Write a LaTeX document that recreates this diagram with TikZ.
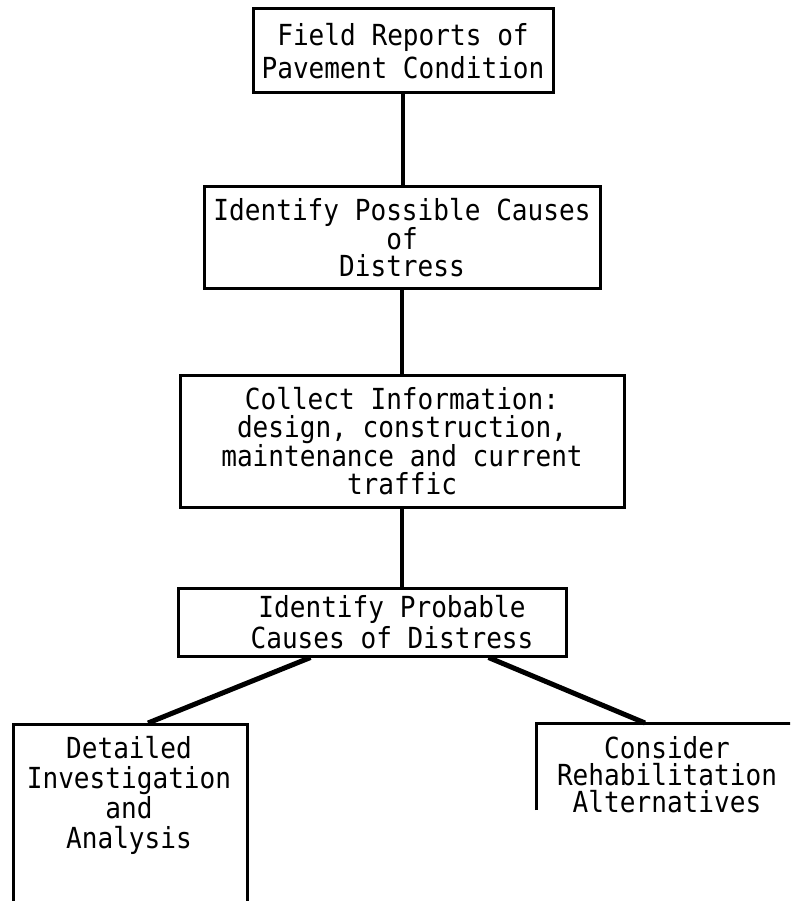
\documentclass[tikz,border=0pt]{standalone}
\usepackage{fontspec}
\usetikzlibrary{calc}
\newfontfamily\typer[FakeStretch=0.9]{DejaVu Sans Mono}
\begin{document}
\begin{tikzpicture}[x=1pt,y=-1pt,
  txt/.style={inner sep=0pt, align=center,
    font=\typer\fontsize{29}{#1}\selectfont},
  txt/.default=29,
  frame/.style={draw, rectangle, line width=3pt, inner sep=0pt},
  link/.style={line width=4pt},
  branch/.style={line width=5pt}]
  \useasboundingbox (0,0) rectangle (790,901);
  \clip (0,0) rectangle (790,901);

  % main chain of boxes
  \node[frame, txt=33, minimum width=300pt, minimum height=84pt] (field) at (403,51)
    {Field Reports of\\Pavement Condition};
  \node[frame, txt=27.5, minimum width=396pt, minimum height=101pt] (possible) at (402,237.5)
    {Identify Possible Causes\\of\\Distress};
  \node[frame, txt=28.5, minimum width=444pt, minimum height=132pt] (collect) at (402,441)
    {Collect Information:\\design, construction,\\maintenance and current\\traffic};
  \node[frame, minimum width=388pt, minimum height=68pt] (probable) at (372,622) {};
  \node[txt=31] (probabletext) at (392,622)
    {Identify Probable\\Causes of Distress};

  % lower-left box runs past the bottom edge
  \node[frame, anchor=north west, minimum width=234pt, minimum height=220pt] (detail) at (12,723) {};
  \node[txt=30] (detailtext) at (129,795)
    {Detailed\\Investigation\\and\\Analysis};

  % lower-right box runs past the right edge
  \coordinate (rehab) at (536,723);
  \coordinate (rehabfoot) at (536,810);
  \coordinate (rehabtop) at (800,723);
  \draw[line width=3pt] (rehabfoot) -- (rehab) -- (rehabtop);
  \node[txt=27] (rehabtext) at (667,775)
    {Consider\\Rehabilitation\\Alternatives};

  % connectors
  \draw[link] (field.south) -- (field.south |- possible.north);
  \draw[link] (possible.south) -- (possible.south |- collect.north);
  \draw[link] (collect.south) -- (collect.south |- probable.north);
  \draw[branch] ($(probable.south west)+(134,0)$) -- ($(detail.north west)+(136,0)$);
  \draw[branch] ($(probable.south west)+(312,0)$) -- ($(rehab)+(109,0)$);
\end{tikzpicture}
\end{document}
